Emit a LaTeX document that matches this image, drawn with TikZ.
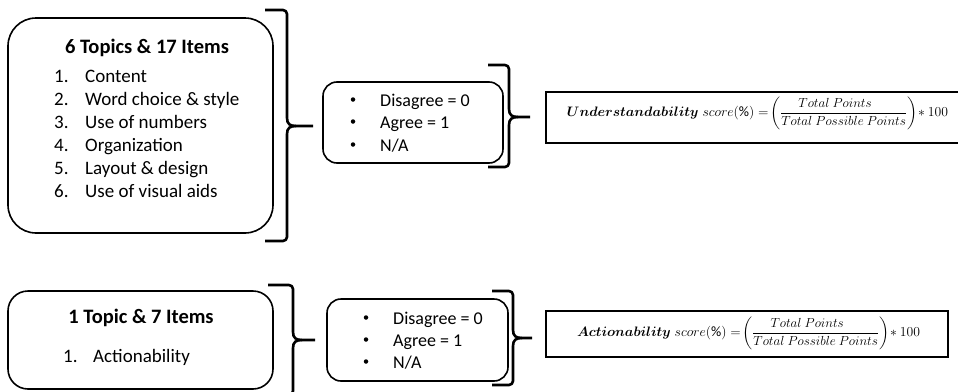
\documentclass[tikz,border=0pt]{standalone}
\usepackage{fontspec}
\setmainfont{Carlito}
\usepackage{amsmath}
\usepackage{bm}
\newcommand{\drawbrace}[6]{%
  \draw[bracestyle] (#1,#4) -- ({#2-4},#4) to[out=0,in=90] (#2,{#4+4})
    -- (#2,{#5-8}) .. controls (#2,{#5-2}) and ({#2+3},#5) .. ({#2+9},#5) -- (#3,#5);
  \draw[bracestyle] (#1,#6) -- ({#2-4},#6) to[out=0,in=-90] (#2,{#6-4})
    -- (#2,{#5+8}) .. controls (#2,{#5+2}) and ({#2+3},#5) .. ({#2+9},#5);
}
\newcommand{\fracpart}{\!\left(\dfrac{\scalebox{0.96}{$Total\ Points$}}{\scalebox{0.96}{$Total\ Possible\ Points$}}\right)\!}
\begin{document}
\begin{tikzpicture}[x=1pt,y=-1pt,
  rbox/.style={draw, line width=1.6pt, rounded corners=#1, inner sep=0pt},
  rbox/.default=14pt,
  fbox/.style={draw, line width=1.6pt, inner sep=0pt},
  bracestyle/.style={line width=2.6pt, line join=round},
  txt/.style={font=\fontsize{19}{21}\selectfont, inner sep=0pt, anchor=base west},
  opt/.style={font=\fontsize{18}{20}\selectfont, inner sep=0pt, anchor=base west},
  dot/.style={circle, fill, inner sep=0pt, minimum size=4.5pt},
  ttl/.style={font=\fontsize{20.5}{23}\selectfont\bfseries, inner sep=0pt, anchor=base},
  fml/.style={font=\fontsize{15}{18}\selectfont, inner sep=0pt, anchor=center}]
\useasboundingbox (0,0) rectangle (958,391);
\fill[white] (0,0) rectangle (958,391);

% --- top row ---
\node[rbox=28pt, minimum width=265pt, minimum height=215pt] (topics) at (140.5,125.5) {};
\node[ttl] (ttl1) at (147,53) {6 Topics \& 17 Items};
\foreach \n/\t [count=\i from 0] in {1/Content,2/Word choice \& style,3/Use of numbers,4/Organization,5/Layout \& design,6/Use of visual aids}{
  \node[txt] (num\n) at (54,{82+23*\i}) {\n.};
  \node[txt] (item\n) at (85,{82+23*\i}) {\t};
}
\drawbrace{265}{287}{313}{10}{126}{241}

\node[rbox=14pt, minimum width=180pt, minimum height=81pt] (scale1) at (413,122.5) {};
\foreach \t/\y [count=\i] in {Disagree = 0/106,Agree = 1/128,{N/A}/151}{
  \node[dot] (bul1\i) at (353,{\y-6.5}) {};
  \node[opt] (opt1\i) at (380,\y) {\t};
}
\drawbrace{488}{509}{530}{65}{117}{167}

\node[fbox, minimum width=423pt, minimum height=51pt] (form1) at (757.5,117.5) {};
\node[fml] (eq1) at (757.5,113) {\resizebox{381pt}{!}{$\bm{Understandability}\; score(\%) = \fracpart * 100$}};

% --- bottom row ---
\node[rbox=20pt, minimum width=265pt, minimum height=98pt] (topic2) at (140.5,340) {};
\node[ttl] (ttl2) at (141,323) {1 Topic \& 7 Items};
\node[txt] (num21) at (63,362) {1.};
\node[txt] (item21) at (93,362) {Actionability};
\drawbrace{268}{293}{315}{285}{340}{395}

\node[rbox=14pt, minimum width=181pt, minimum height=82pt] (scale2) at (417.5,340) {};
\foreach \t/\y [count=\i] in {Disagree = 0/324,Agree = 1/346,{N/A}/368}{
  \node[dot] (bul2\i) at (366,{\y-6.5}) {};
  \node[opt] (opt2\i) at (393,\y) {\t};
}
\drawbrace{492}{513}{532}{291}{338}{385}

\node[fbox, minimum width=402pt, minimum height=46pt] (form2) at (747,334) {};
\node[fml] (eq2) at (748.5,333) {\resizebox{343pt}{!}{$\bm{Actionability}\; score(\%) = \fracpart * 100$}};
\end{tikzpicture}
\end{document}
